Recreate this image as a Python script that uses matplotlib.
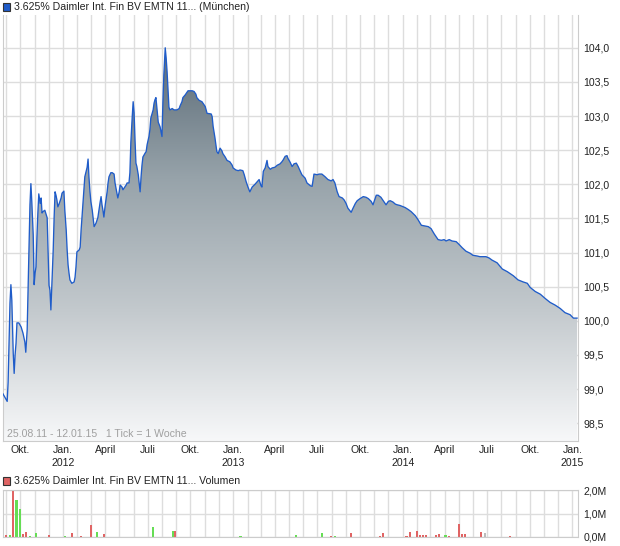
import numpy as np
import pandas as pd
import matplotlib
matplotlib.use('Agg')
import matplotlib.pyplot as plt
import matplotlib.dates as mdates
from matplotlib.colors import LinearSegmentedColormap
from matplotlib.patches import Rectangle

plt.rcParams['font.family'] = ['Liberation Sans', 'DejaVu Sans']

# price readings: days after 25.08.2011 and price
start = pd.Timestamp('2011-08-25')
end = pd.Timestamp('2015-01-13')
price_days = [
    0, 4, 9, 11, 13, 15, 17, 19, 22, 24,
    26, 28, 30, 34, 39, 43, 47, 49, 52, 54,
    56, 58, 60, 62, 65, 67, 69, 71, 73, 75,
    77, 80, 82, 84, 86, 90, 95, 97, 99, 101,
    103, 105, 108, 110, 112, 114, 116, 118, 121, 125,
    127, 131, 133, 136, 138, 140, 142, 144, 148, 153,
    155, 157, 159, 164, 166, 168, 170, 172, 174, 176,
    181, 183, 185, 187, 189, 192, 194, 196, 200, 204,
    207, 209, 211, 213, 215, 217, 220, 222, 224, 226,
    228, 232, 235, 239, 241, 245, 247, 250, 252, 256,
    258, 260, 265, 267, 271, 273, 275, 278, 280, 282,
    284, 286, 288, 291, 293, 295, 297, 299, 301, 306,
    308, 310, 314, 316, 318, 323, 325, 327, 329, 331,
    334, 338, 340, 342, 344, 346, 349, 351, 353, 355,
    357, 359, 364, 368, 374, 379, 381, 385, 387, 392,
    396, 398, 402, 407, 411, 415, 417, 422, 428, 430,
    435, 439, 448, 450, 452, 456, 460, 463, 467, 471,
    473, 478, 482, 488, 493, 495, 501, 506, 510, 516,
    519, 523, 527, 531, 536, 542, 547, 551, 555, 557,
    560, 564, 568, 570, 575, 579, 585, 590, 596, 600,
    603, 607, 611, 613, 618, 622, 626, 631, 635, 639,
    643, 650, 654, 661, 665, 669, 676, 680, 686, 693,
    699, 706, 710, 714, 719, 723, 730, 734, 738, 742,
    749, 753, 758, 762, 768, 775, 781, 786, 792, 796,
    803, 807, 813, 818, 824, 829, 833, 839, 844, 848,
    854, 865, 872, 878, 887, 893, 900, 908, 915, 921,
    928, 936, 943, 949, 953, 960, 966, 975, 981, 988,
    996, 1005, 1011, 1020, 1026, 1039, 1046, 1052, 1063, 1074,
    1085, 1098, 1108, 1119, 1128, 1134, 1145, 1156, 1166, 1177,
    1188, 1199, 1209, 1220, 1227, 1235,
]
price_values = [
    98.93, 98.88, 98.82, 99.10, 99.67, 100.26, 100.53, 100.30, 99.53, 99.23,
    99.50, 99.67, 99.97, 99.97, 99.91, 99.82, 99.69, 99.54, 99.87, 100.48,
    101.08, 101.70, 102.01, 101.74, 101.26, 100.53, 100.70, 100.79, 101.23, 101.58,
    101.86, 101.72, 101.80, 101.58, 101.60, 101.62, 101.51, 101.01, 100.52, 100.45,
    100.16, 100.52, 101.04, 101.52, 101.89, 101.84, 101.77, 101.67, 101.72, 101.80,
    101.87, 101.90, 101.62, 101.33, 101.04, 100.82, 100.70, 100.60, 100.55, 100.57,
    100.64, 100.79, 101.01, 101.04, 101.08, 101.33, 101.52, 101.72, 101.92, 102.11,
    102.25, 102.37, 102.10, 101.90, 101.75, 101.62, 101.50, 101.38, 101.43, 101.51,
    101.65, 101.74, 101.82, 101.70, 101.62, 101.52, 101.70, 101.80, 101.89, 102.02,
    102.11, 102.17, 102.17, 102.15, 102.02, 101.87, 101.80, 101.89, 101.99, 101.96,
    101.92, 101.94, 101.99, 102.02, 102.02, 102.17, 102.61, 102.99, 103.21, 103.05,
    102.65, 102.31, 102.26, 102.14, 102.02, 101.89, 102.11, 102.28, 102.40, 102.46,
    102.48, 102.58, 102.70, 102.80, 102.97, 103.09, 103.19, 103.24, 103.27, 103.13,
    102.91, 102.84, 102.77, 102.70, 103.20, 103.60, 104.00, 103.85, 103.65, 103.38,
    103.13, 103.09, 103.11, 103.09, 103.09, 103.11, 103.15, 103.21, 103.27, 103.31,
    103.35, 103.37, 103.37, 103.37, 103.36, 103.32, 103.27, 103.23, 103.21, 103.19,
    103.14, 103.04, 103.03, 102.99, 102.85, 102.68, 102.48, 102.45, 102.53, 102.49,
    102.45, 102.40, 102.35, 102.33, 102.28, 102.24, 102.21, 102.20, 102.21, 102.20,
    102.14, 102.04, 101.96, 101.89, 101.96, 102.00, 102.04, 102.07, 101.98, 101.96,
    102.19, 102.24, 102.35, 102.26, 102.22, 102.24, 102.25, 102.28, 102.30, 102.33,
    102.36, 102.41, 102.42, 102.38, 102.32, 102.26, 102.30, 102.31, 102.26, 102.20,
    102.14, 102.09, 102.02, 101.98, 101.97, 102.15, 102.14, 102.15, 102.15, 102.11,
    102.07, 102.05, 102.07, 102.02, 101.89, 101.82, 101.80, 101.77, 101.72, 101.65,
    101.59, 101.65, 101.72, 101.76, 101.79, 101.82, 101.81, 101.79, 101.75, 101.70,
    101.84, 101.84, 101.81, 101.76, 101.70, 101.75, 101.76, 101.74, 101.71, 101.70,
    101.69, 101.66, 101.63, 101.60, 101.54, 101.48, 101.40, 101.39, 101.38, 101.35,
    101.27, 101.19, 101.18, 101.19, 101.17, 101.19, 101.17, 101.16, 101.12, 101.07,
    101.02, 100.99, 100.96, 100.95, 100.94, 100.94, 100.92, 100.89, 100.85, 100.76,
    100.72, 100.66, 100.60, 100.57, 100.55, 100.49, 100.43, 100.39, 100.33, 100.27,
    100.23, 100.18, 100.12, 100.09, 100.04, 100.04,
]

# volume (in Mio.), one bar per weekly tick with trades
vol_days = [0, 7, 15, 22, 29, 36, 43, 49, 58, 71,
            99, 133, 149, 168, 190, 203, 217, 322, 358, 365,
            371, 511, 631, 686, 694, 706, 715, 749, 783, 812,
            818, 868, 875, 890, 897, 903, 910, 931, 938, 952,
            959, 981, 988, 994, 1029, 1037, 1091]
vol_values = [0.61, 0.09, 0.09, 1.94, 1.59, 1.21, 0.14, 0.21, 0.04, 0.17,
              0.09, 0.04, 0.17, 0.04, 0.51, 0.21, 0.13, 0.43, 0.01, 0.26,
              0.26, 0.04, 0.09, 0.17, 0.01, 0.04, 0.04, 0.17, 0.01, 0.04,
              0.17, 0.04, 0.21, 0.26, 0.10, 0.07, 0.10, 0.09, 0.13, 0.09,
              0.04, 0.57, 0.14, 0.14, 0.21, 0.19, 0.04]
vol_dir = ['n', 'd', 'u', 'd', 'u', 'u', 'd', 'd', 'u', 'u',
           'd', 'u', 'd', 'd', 'd', 'u', 'd', 'u', 'd', 'u',
           'd', 'u', 'u', 'u', 'd', 'd', 'u', 'd', 'd', 'd',
           'd', 'd', 'd', 'd', 'd', 'd', 'd', 'd', 'd', 'u',
           'd', 'd', 'd', 'd', 'd', 'n', 'd']

price_ticks = [98.5, 99.0, 99.5, 100.0, 100.5, 101.0, 101.5, 102.0, 102.5, 103.0, 103.5, 104.0]
vol_ticks = [0, 1, 2]
month_names = {1: 'Jan.', 4: 'April', 7: 'Juli', 10: 'Okt.'}

title = '3.625% Daimler Int. Fin BV EMTN 11... (München)'
vol_title = '3.625% Daimler Int. Fin BV EMTN 11... Volumen'
range_text = '25.08.11 - 12.01.15   1 Tick = 1 Woche'

GRID = '#dddddd'
LINE = '#1f5cc9'
FS = 7.6
dir_colors = {'u': '#66dd55', 'd': '#e06464', 'n': '#bbbbbb'}

x = mdates.date2num((start + pd.to_timedelta(price_days, unit='D')).to_pydatetime())
vx = mdates.date2num((start + pd.to_timedelta(vol_days, unit='D')).to_pydatetime())
xmin = mdates.date2num(start.to_pydatetime())
xmax = mdates.date2num(end.to_pydatetime())

W, H = 620, 546
fig = plt.figure(figsize=(W / 100, H / 100), dpi=100)

# ---------------- price panel
ax = fig.add_axes([3 / W, 1 - 441 / H, 575 / W, 426 / H])
ymin, ymax = 98.24, 104.48
ax.set_xlim(xmin, xmax)
ax.set_ylim(ymin, ymax)

cmap = LinearSegmentedColormap.from_list('g', ['#f7f8f9', '#c3c9cd', '#97a3aa', '#5a6a76'])
poly = ax.fill_between(x, price_values, ymin, facecolor='none', edgecolor='none')
im = ax.imshow(np.linspace(0, 1, 256).reshape(-1, 1), extent=[xmin, xmax, ymin, 104.0],
               origin='lower', aspect='auto', cmap=cmap, zorder=2)
im.set_clip_path(poly.get_paths()[0], transform=ax.transData)
ax.plot(x, price_values, color=LINE, lw=0.95, zorder=3)
ax.set_xlim(xmin, xmax)
ax.set_ylim(ymin, ymax)


def month_fmt(v, pos=None):
    d = mdates.num2date(v)
    s = month_names.get(d.month, '')
    if d.month == 1:
        s += '\n' + str(d.year)
    return s


ax.xaxis.set_major_locator(mdates.MonthLocator(bymonth=[1, 4, 7, 10]))
ax.xaxis.set_minor_locator(mdates.MonthLocator())
ax.xaxis.set_major_formatter(plt.FuncFormatter(month_fmt))
ax.grid(which='both', axis='x', color=GRID, lw=1, zorder=0)
ax.grid(which='major', axis='y', color=GRID, lw=1, zorder=0)
ax.set_axisbelow(True)
ax.yaxis.tick_right()
ax.set_yticks(price_ticks)
ax.set_yticklabels([f'{v:.1f}'.replace('.', ',') for v in price_ticks])
ax.tick_params(axis='both', which='both', length=0, labelsize=FS, colors='#222222')
ax.tick_params(axis='y', pad=4)
ax.tick_params(axis='x', pad=3)
for t in ax.get_xticklabels():
    t.set_linespacing(1.3)
ax.spines['top'].set_visible(False)
for s in ['left', 'right', 'bottom']:
    ax.spines[s].set_color('#cccccc')

fig.patches.append(Rectangle((3 / W, 1 - 10.5 / H), 7 / W, 8 / H, transform=fig.transFigure,
                             facecolor='#1f5cc9', edgecolor='#333333', lw=0.8))
fig.text(14 / W, 1 - 6.5 / H, title, fontsize=FS, va='center', color='#222222')
fig.text(7 / W, 1 - 434 / H, range_text, fontsize=FS, va='center', color='#a0a0a0')

# ---------------- volume panel
vax = fig.add_axes([3 / W, 1 - 537 / H, 575 / W, 47 / H])
vax.bar(vx, vol_values, width=4.5, color=[dir_colors[c] for c in vol_dir], zorder=2)
vax.set_xlim(xmin, xmax)
vax.set_ylim(0, 2.0)
vax.xaxis.set_major_locator(mdates.MonthLocator())
vax.xaxis.set_major_formatter(plt.NullFormatter())
vax.grid(axis='both', color=GRID, lw=1, zorder=0)
vax.set_axisbelow(True)
vax.yaxis.tick_right()
vax.set_yticks(vol_ticks)
vax.set_yticklabels([f'{v:.1f}'.replace('.', ',') + 'M' for v in vol_ticks])
vax.tick_params(axis='both', length=0, labelsize=FS, colors='#222222', pad=4)
for s in vax.spines.values():
    s.set_color('#cccccc')

fig.patches.append(Rectangle((3 / W, 1 - 484.5 / H), 7 / W, 8 / H, transform=fig.transFigure,
                             facecolor='#e06464', edgecolor='#333333', lw=0.8))
fig.text(14 / W, 1 - 480.5 / H, vol_title, fontsize=FS, va='center', color='#222222')

fig.savefig('out.png', dpi=100)
